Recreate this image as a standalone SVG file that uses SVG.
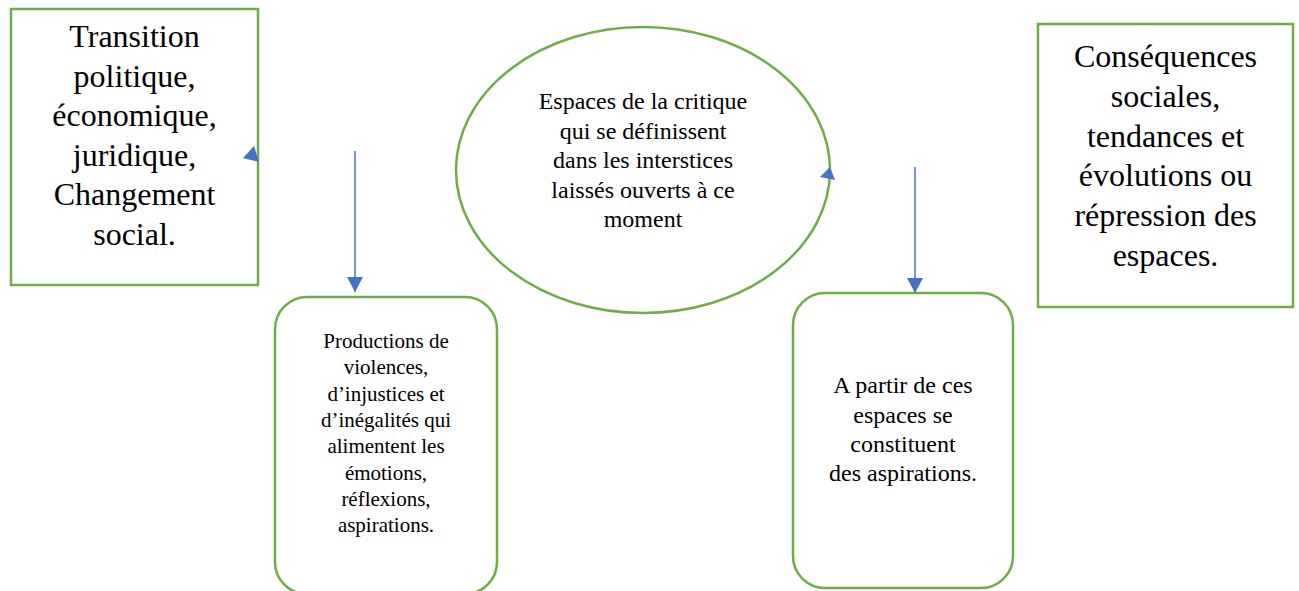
<svg xmlns="http://www.w3.org/2000/svg" width="1299" height="591" viewBox="0 0 1299 591">
<style>
.node{fill:#fff;stroke:#70AD47;stroke-width:2.5}
.t{fill:#000;text-anchor:middle}
.conn{stroke:#4472C4;stroke-width:1.5;fill:none}
.head{fill:#4472C4;stroke:none}
</style>
<defs>
<marker id="arr" markerWidth="16" markerHeight="16" refX="15" refY="8" orient="auto" markerUnits="userSpaceOnUse" viewBox="0 0 16 16">
<path d="M0,0 L15,8 L0,16 Z" fill="#4472C4"/>
</marker>
</defs>
<rect width="1299" height="591" fill="#fff"/>
<g id="n1" font-family="Liberation Serif, Times New Roman, serif">
<rect class="node" x="11" y="9" width="247" height="276"/>
<text class="t" font-size="32" x="134.5" y="47">Transition</text>
<text class="t" font-size="32" x="134.5" y="86.6">politique,</text>
<text class="t" font-size="32" x="134.5" y="126.2">économique,</text>
<text class="t" font-size="32" x="134.5" y="165.8">juridique,</text>
<text class="t" font-size="32" x="134.5" y="205.4">Changement</text>
<text class="t" font-size="32" x="134.5" y="245">social.</text>
</g>
<g id="n2" font-family="Liberation Serif, Times New Roman, serif">
<ellipse class="node" cx="643" cy="170" rx="187" ry="143"/>
<text class="t" font-size="24" x="643" y="109">Espaces de la critique</text>
<text class="t" font-size="24" x="643" y="138.5">qui se définissent</text>
<text class="t" font-size="24" x="643" y="168">dans les interstices</text>
<text class="t" font-size="24" x="643" y="197.5">laissés ouverts à ce</text>
<text class="t" font-size="24" x="643" y="227">moment</text>
</g>
<g id="n3" font-family="Liberation Serif, Times New Roman, serif">
<rect class="node" x="1038" y="24" width="255" height="283"/>
<text class="t" font-size="32" x="1165.5" y="67">Conséquences</text>
<text class="t" font-size="32" x="1165.5" y="106.8">sociales,</text>
<text class="t" font-size="32" x="1165.5" y="146.6">tendances et</text>
<text class="t" font-size="32" x="1165.5" y="186.4">évolutions ou</text>
<text class="t" font-size="32" x="1165.5" y="226.2">répression des</text>
<text class="t" font-size="32" x="1165.5" y="266">espaces.</text>
</g>
<g id="n4" font-family="Liberation Serif, Times New Roman, serif">
<rect class="node" x="275" y="297" width="222" height="297" rx="32" ry="32"/>
<text class="t" font-size="21" x="386" y="348">Productions de</text>
<text class="t" font-size="21" x="386" y="374.3">violences,</text>
<text class="t" font-size="21" x="386" y="400.6">d’injustices et</text>
<text class="t" font-size="21" x="386" y="426.9">d’inégalités qui</text>
<text class="t" font-size="21" x="386" y="453.2">alimentent les</text>
<text class="t" font-size="21" x="386" y="479.5">émotions,</text>
<text class="t" font-size="21" x="386" y="505.8">réflexions,</text>
<text class="t" font-size="21" x="386" y="532">aspirations.</text>
</g>
<g id="n5" font-family="Liberation Serif, Times New Roman, serif">
<rect class="node" x="793" y="293" width="220" height="295" rx="32" ry="32"/>
<text class="t" font-size="24" x="903" y="393">A partir de ces</text>
<text class="t" font-size="24" x="903" y="422.5">espaces se</text>
<text class="t" font-size="24" x="903" y="452">constituent</text>
<text class="t" font-size="24" x="903" y="481">des aspirations.</text>
</g>
<g id="connectors">
<line class="conn" x1="355" y1="151" x2="355" y2="292" marker-end="url(#arr)"/>
<line class="conn" x1="915" y1="167" x2="915" y2="293" marker-end="url(#arr)"/>
<polygon class="head" points="254,146 243,158 259,162"/>
<polygon class="head" points="830,167 820,177 835,180"/>
</g>
</svg>
